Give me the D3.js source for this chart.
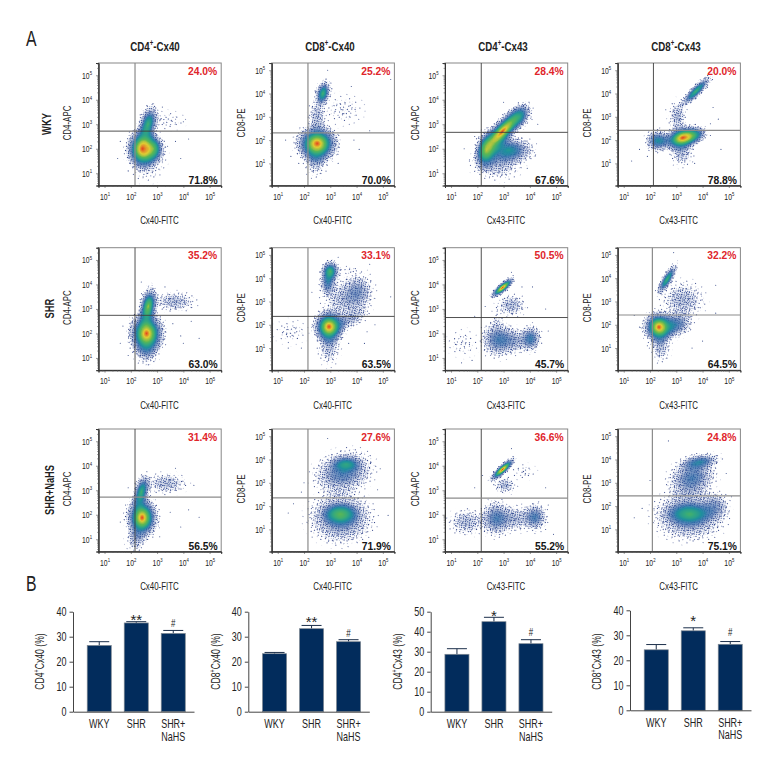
<!DOCTYPE html>
<html>
<head>
<meta charset="utf-8">
<title>Cx40 and Cx43 flow cytometry</title>
<script src="https://cdn.jsdelivr.net/npm/d3@7"></script>
<style>
  body { margin: 0; background: #fff; }
  svg { display: block; }
  text { font-family: "Liberation Sans", sans-serif; fill: #222; }
  .pct { font-weight: bold; font-size: 10.3px; }
</style>
</head>
<body>
<div id="chart"></div>
<script>
// column and row headings
var markers = ['CD4', 'CD8', 'CD4', 'CD8'];
var connexins = ['Cx40', 'Cx40', 'Cx43', 'Cx43'];
var yChannels = ['CD4-APC', 'CD8-PE', 'CD4-APC', 'CD8-PE'];
var xChannels = ['Cx40-FITC', 'Cx40-FITC', 'Cx43-FITC', 'Cx43-FITC'];
var groups = ['WKY', 'SHR', 'SHR+NaHS'];
var decades = [1, 2, 3, 4, 5];

// quadrant percentages, [row][col]
var upperPct = [['24.0%', '25.2%', '28.4%', '20.0%'],
                ['35.2%', '33.1%', '50.5%', '32.2%'],
                ['31.4%', '27.6%', '36.6%', '24.8%']];
var lowerPct = [['71.8%', '70.0%', '67.6%', '78.8%'],
                ['63.0%', '63.5%', '45.7%', '64.5%'],
                ['56.5%', '71.9%', '55.2%', '75.1%']];

// quadrant gates in log10 units, [row][col]
var gateX = [[2.16, 2.15, 2.15, 2.13],
             [2.16, 2.15, 2.15, 2.09],
             [2.16, 2.15, 2.15, 2.09]];
var gateY = [[2.72, 2.31, 2.67, 2.42],
             [2.74, 2.36, 2.65, 2.42],
             [2.72, 2.35, 2.68, 2.44]];

// populations:
// [log x, log y, spread x, spread y, tilt in degrees, peak density 0-6]
var wkyCd4Cx40 = [[2.6, 1.75, .9, 1.3, 0, 1], [2.45, 2.0, .75, 1.0, 0, 6], [2.85, 2.0, .55, .7, 0, 3],
                  [2.65, 3.0, .45, 1.0, -15, 4], [3.4, 3.15, .85, .5, 0, 0]];
var wkyCd8Cx40 = [[2.5, 1.85, 1.0, 1.0, 0, 6], [2.45, 1.2, .6, 1.0, 0, 1],
                  [2.72, 4.0, .36, .72, -15, 4], [2.5, 3.0, .45, .9, 0, 1], [3.5, 3.3, 1.0, .85, 0, 0]];
var wkyCd4Cx43 = [[2.95, 2.7, 1.6, .55, 47, 6], [2.35, 1.95, .55, 1.05, -10, 4], [3.2, 1.95, 1.2, .7, 0, 3],
                  [2.75, 1.4, 1.2, .85, 0, 1], [3.6, 3.3, .7, .55, 47, 2]];
var wkyCd8Cx43 = [[3.25, 2.1, .95, .62, 15, 6], [3.65, 2.2, .7, .42, 15, 2], [3.2, 1.5, .6, .8, 0, 1],
                  [2.3, 1.97, .6, .6, 0, 3], [3.75, 4.1, 1.0, .3, 45, 4], [3.05, 3.0, .45, .9, 0, 1]];
var shrCd4Cx40 = [[2.6, 2.0, .85, 1.1, 0, 6], [2.66, 3.1, .42, 1.0, -10, 5], [3.67, 3.3, 1.05, .52, 0, 1],
                  [2.6, 1.3, .6, .8, 0, 1]];
var shrCd8Cx40 = [[2.95, 1.92, .75, .9, 0, 6], [2.95, 1.1, .55, 1.05, 0, 1], [3.7, 2.2, 1.05, .5, 25, 1],
                  [3.0, 4.3, .45, .6, 0, 4], [2.9, 3.8, .4, .72, 0, 2], [3.7, 4.35, .65, .22, 0, 0],
                  [4.1, 3.5, .75, 1.0, 0, 1], [3.6, 3.1, 1.15, 1.15, 0, 1], [1.5, 1.7, .85, .65, 0, 0]];
var shrCd4Cx43 = [[2.96, 3.87, .72, .24, 40, 6], [3.3, 3.15, .72, .58, 0, 1], [2.8, 1.75, .85, .92, 0, 2],
                  [4.05, 1.8, .5, .68, 0, 2], [1.45, 1.6, .75, .7, 0, 0], [3.5, 1.7, .8, .68, 0, 1],
                  [2.75, 2.6, .3, .65, 0, 0]];
var shrCd8Cx43 = [[2.34, 1.9, .75, .85, 0, 6], [2.4, 1.1, .5, .92, 0, 1], [3.0, 2.0, .78, .68, 20, 2],
                  [2.65, 3.95, .85, .28, 58, 4], [3.25, 3.05, 1.05, 1.05, 0, 1]];
var nahsCd4Cx40 = [[2.43, 1.88, .75, 1.05, 0, 6], [2.4, 2.93, .38, .92, -15, 4], [3.35, 3.27, 1.0, .55, 0, 1],
                   [2.2, 1.0, .5, .68, 0, 1]];
var nahsCd8Cx40 = [[3.4, 1.5, 1.55, 1.4, 0, 2], [3.38, 1.66, .9, .6, 0, 3],
                   [3.5, 3.45, 1.45, 1.15, 15, 2], [3.6, 3.8, .75, .45, 0, 2]];
var nahsCd4Cx43 = [[2.96, 3.85, .78, .24, 42, 6], [3.05, 3.2, .55, .45, 0, 1], [2.73, 1.85, .78, .92, 0, 2],
                   [4.2, 1.9, .58, .72, 0, 2], [3.5, 1.85, .75, .68, 0, 1], [1.6, 1.7, .9, .68, 0, 1],
                   [3.75, 3.75, .65, .42, 0, 0]];
var nahsCd8Cx43 = [[3.5, 1.6, 1.7, 1.35, 0, 2], [3.5, 1.67, 1.15, .6, 0, 2], [4.5, 2.0, .7, .8, 0, 1],
                   [3.9, 3.9, 1.0, .42, 10, 2], [3.6, 3.2, 1.2, 1.05, 25, 2]];

// stray events outside the populations, [log x, log y]
var wkyCd4Cx40Strays = [[1.5, 1.6], [1.6, 2.3], [3.2, 1.5], [3.4, 2.1], [3.7, 2.3], [3.9, 1.6], [4.2, 2.4], [3.2, 3.7], [4.0, 3.1], [1.9, 1.1]];
var wkyCd8Cx40Strays = [[1.3, 2.0], [1.5, 1.3], [1.8, 1.0], [3.9, 2.0], [4.1, 1.6], [4.5, 2.4], [3.8, 4.3], [2.9, 5.0], [5.3, 4.6], [3.3, 1.0]];
var wkyCd4Cx43Strays = [[1.5, 2.0], [1.7, 1.5], [1.9, 2.5], [4.0, 2.4], [4.2, 1.7], [4.3, 3.0], [3.0, 3.9], [3.9, 1.2]];
var wkyCd8Cx43Strays = [[1.3, 1.1], [1.6, 1.6], [1.9, 1.3], [4.3, 2.7], [4.7, 1.6], [4.4, 3.4], [2.6, 3.3], [3.7, 1.0], [4.6, 2.9], [4.3, 2.2]];
var shrCd4Cx40Strays = [[1.6, 1.6], [1.7, 2.3], [3.6, 2.4], [3.9, 1.9], [4.0, 1.6], [4.6, 1.8], [3.3, 3.9], [2.4, 4.1], [4.3, 2.5], [1.9, 1.1]];
var shrCd8Cx40Strays = [[1.4, 1.0], [1.9, 1.0], [4.4, 1.7], [4.7, 2.0], [5.3, 3.2], [4.5, 4.6], [3.7, 1.2], [3.3, 4.9], [2.3, 3.4], [4.3, 1.2]];
var shrCd4Cx43Strays = [[1.9, 2.7], [2.3, 3.1], [4.6, 3.0], [4.1, 3.9], [3.7, 3.9], [4.7, 2.1], [3.3, 4.5], [1.8, .9], [1.4, .8]];
var shrCd8Cx43Strays = [[1.6, 1.9], [1.4, 2.4], [1.9, 1.1], [4.5, 2.5], [4.5, 3.7], [2.9, 5.1], [4.0, 1.3], [3.6, 1.0]];
var nahsCd4Cx40Strays = [[1.6, 1.7], [1.8, 2.4], [3.5, 2.1], [3.9, 1.5], [4.2, 2.2], [4.6, 1.9], [3.7, 3.9], [1.9, 3.1], [4.4, 3.2], [3.1, 1.1]];
var nahsCd8Cx40Strays = [[1.4, 1.7], [1.9, 2.6], [2.0, 3.0], [1.6, 2.1], [4.8, 2.7], [5.2, 1.6], [2.9, 4.9], [4.9, 3.6]];
var nahsCd4Cx43Strays = [[1.9, 3.1], [2.2, 3.6], [3.3, 4.7], [4.7, 2.4], [4.6, 1.4], [4.9, 1.2], [4.6, 3.1]];
var nahsCd8Cx43Strays = [[1.4, 1.5], [1.7, 1.9], [2.0, 3.1], [4.9, 3.4], [2.7, 4.8], [5.1, 2.4]];

var populations = [[wkyCd4Cx40, wkyCd8Cx40, wkyCd4Cx43, wkyCd8Cx43],
                   [shrCd4Cx40, shrCd8Cx40, shrCd4Cx43, shrCd8Cx43],
                   [nahsCd4Cx40, nahsCd8Cx40, nahsCd4Cx43, nahsCd8Cx43]];
var strays = [[wkyCd4Cx40Strays, wkyCd8Cx40Strays, wkyCd4Cx43Strays, wkyCd8Cx43Strays],
              [shrCd4Cx40Strays, shrCd8Cx40Strays, shrCd4Cx43Strays, shrCd8Cx43Strays],
              [nahsCd4Cx40Strays, nahsCd8Cx40Strays, nahsCd4Cx43Strays, nahsCd8Cx43Strays]];

// bar charts
var barCategories = ['WKY', 'SHR', 'SHR+NaHS'];
var cd4Cx40Means = [26.5, 35.5, 31.3];
var cd4Cx40Tops = [28.0, 36.0, 32.5];
var cd8Cx40Means = [23.2, 33.2, 28.0];
var cd8Cx40Tops = [23.7, 34.5, 28.8];
var cd4Cx43Means = [28.7, 45.0, 34.0];
var cd4Cx43Tops = [31.5, 47.2, 36.0];
var cd8Cx43Means = [24.2, 31.8, 26.4];
var cd8Cx43Tops = [26.3, 33.0, 27.5];
var barMeans = [cd4Cx40Means, cd8Cx40Means, cd4Cx43Means, cd8Cx43Means];
var barTops = [cd4Cx40Tops, cd8Cx40Tops, cd4Cx43Tops, cd8Cx43Tops];
var barMarks = [['', '**', '#'], ['', '**', '#'], ['', '*', '#'], ['', '*', '#']];
var barMax = [40, 40, 50, 40];
var barTicks = [[0, 10, 20, 30, 40], [0, 10, 20, 30, 40], [0, 10, 20, 30, 40, 50], [0, 10, 20, 30, 40]];

// layout
var colLeft = [98.5, 271.7, 445, 617.7];
var rowTop = [63, 247.7, 429];
var plotW = 122.7, plotH = 122.5;
var xDomain = [0.77, 5.44];
var yDomains = [[0.5, 5.5], [0.05, 5.31], [0.5, 5.5], [0.05, 5.31]];
var titleX = [155, 330, 503, 676];
var channelX = [67, 241.7, 415.7, 587.7];
var rowLabelX = [47, 50, 50];
var barLeft = [73, 248.3, 430.7, 630];
var barBase = [711.7, 711.7, 711.7, 710.3];
var barTitleX = [40, 216, 398.3, 597.3];
var barMarkGaps = [[0, 4.7, 7], [0, 6.4, 6.7], [0, 4.6, 7.4], [0, 10, 9.5]];
var squeeze = .72;

// gate line shades: some are printed lighter and heavier
var darkGate = ['#3c3c3c', .9], greyGate = ['#8b8b8b', 1.2];
var gateShadeV = [[greyGate, greyGate, darkGate, darkGate],
                  [darkGate, greyGate, darkGate, greyGate],
                  [darkGate, greyGate, darkGate, greyGate]];
var gateShadeH = [[darkGate, greyGate, darkGate, greyGate],
                  [darkGate, darkGate, darkGate, greyGate],
                  [greyGate, greyGate, greyGate, greyGate]];

// how strongly each peak level shows, and the density colour ramp (0 to 1 in even steps)
var peakOpacity = [.12, .3, .5, .62, .74, .86, 1];
var rampRed =   [1, 1, .36, .24, .2, .17, .12, .2, .36, .88, .9];
var rampGreen = [1, 1, .46, .36, .37, .42, .56, .66, .72, .8, .25];
var rampBlue =  [1, 1, .72, .62, .64, .66, .62, .5, .33, .2, .12];
var rampAlpha = [0, 0, .1, .32, .62, .85, 1, 1, 1, 1, 1];

// dot tiles for the thin parts of each population, each one [x, y] inside its tile
var sparseDots = [[1, 2], [9, 1], [5, 5], [12, 6], [2, 10], [8, 11], [14, 13]];
var middleDots = [[0, 1], [4, 0], [7, 3], [2, 4], [9, 6], [5, 7], [0, 8], [8, 9], [3, 10]];
var denseDots = [[0, 0], [3, 1], [5, 0], [1, 2], [4, 3], [6, 2], [2, 4], [0, 5], [5, 5], [3, 6]];

var svg = d3.select('#chart').append('svg').attr('width', 780).attr('height', 780);
var defs = svg.append('defs');

function addTile(id, size, dots, angle, colour) {
    var tile = defs.append('pattern').attr('id', id).attr('patternUnits', 'userSpaceOnUse')
        .attr('width', size).attr('height', size)
        .attr('patternTransform', 'rotate(' + angle + ')');
    tile.selectAll('rect').data(dots).join('rect')
        .attr('x', function(d) { return d[0]; })
        .attr('y', function(d) { return d[1]; })
        .attr('width', 1).attr('height', 1).attr('fill', colour);
}
addTile('dotsSparse', 16, sparseDots, 21, '#2f4188');
addTile('dotsMiddle', 11, middleDots, 58, '#2b3f88');
addTile('dotsDense', 7, denseDots, 33, '#2b4590');

// a population is a soft blob, thick in the middle
var blob = defs.append('radialGradient').attr('id', 'blob');
[[0, 1], [.3, .78], [.6, .36], [.85, .1], [1, 0]].forEach(function(s) {
    blob.append('stop').attr('offset', s[0]).attr('stop-color', '#000').attr('stop-opacity', s[1]);
});

// filter turning the blob thickness into the density colours
function rampFilter(id, reds, greens, blues, alphas) {
    var f = defs.append('filter').attr('id', id).attr('filterUnits', 'userSpaceOnUse')
        .attr('x', 0).attr('y', 0).attr('width', plotW).attr('height', plotH)
        .attr('color-interpolation-filters', 'sRGB');
    f.append('feColorMatrix').attr('type', 'matrix')
        .attr('values', '0 0 0 1 0  0 0 0 1 0  0 0 0 1 0  0 0 0 1 0');
    var t = f.append('feComponentTransfer');
    t.append('feFuncR').attr('type', 'table').attr('tableValues', reds.join(' '));
    t.append('feFuncG').attr('type', 'table').attr('tableValues', greens.join(' '));
    t.append('feFuncB').attr('type', 'table').attr('tableValues', blues.join(' '));
    t.append('feFuncA').attr('type', 'table').attr('tableValues', alphas.join(' '));
}
// same idea for the masks: white above a threshold, nothing below
function threshold(lo, hi) {
    return d3.range(0, 41).map(function(i) {
        var a = i / 40;
        return Math.max(0, Math.min(1, (a - lo) / (hi - lo)));
    });
}
var ones = [1, 1];
rampFilter('densityColours', rampRed, rampGreen, rampBlue, rampAlpha);
rampFilter('maskSparse', ones, ones, ones, threshold(.01, .03));
rampFilter('maskMiddle', ones, ones, ones, threshold(.05, .1));
rampFilter('maskDense', ones, ones, ones, threshold(.11, .19));

// text with a raised part: parts are [string, isSuper]
function richText(sel, parts, size) {
    parts.forEach(function(p, i) {
        var span = sel.append('tspan').text(p[0]);
        if (p[1]) {
            span.attr('font-size', size * .62).attr('dy', -size * .36);
        } else if (i > 0) {
            span.attr('dy', size * .36);
        }
    });
    return sel;
}

function drawDecadeLabels(axisGroup, size) {
    axisGroup.selectAll('.tick text').each(function(d) {
        var label = d3.select(this).text(null);
        richText(label, [['10', false], [String(Math.round(Math.log10(d))), true]], size);
    });
}

function styleAxis(axisGroup) {
    axisGroup.selectAll('.domain').attr('stroke', '#333').attr('stroke-width', 1);
    axisGroup.selectAll('.tick line').attr('stroke', '#555').attr('stroke-width', .6);
}

function drawBlobs(parent, clusters, x, y) {
    parent.selectAll('ellipse').data(clusters).join('ellipse')
        .attr('cx', function(c) { return x(Math.pow(10, c[0])); })
        .attr('cy', function(c) { return y(Math.pow(10, c[1])); })
        .attr('rx', function(c) { return x(Math.pow(10, c[0] + c[2])) - x(Math.pow(10, c[0])); })
        .attr('ry', function(c) { return y(Math.pow(10, c[1])) - y(Math.pow(10, c[1] + c[3])); })
        .attr('transform', function(c) {
            return 'rotate(' + (-c[4]) + ',' + x(Math.pow(10, c[0])) + ',' + y(Math.pow(10, c[1])) + ')';
        })
        .attr('fill', 'url(#blob)')
        .attr('fill-opacity', function(c) { return peakOpacity[c[5]]; });
}

function drawPanel(row, col) {
    var left = colLeft[col], top = rowTop[row];
    var x = d3.scaleLog().domain(xDomain.map(function(v) { return Math.pow(10, v); })).range([0, plotW]);
    var y = d3.scaleLog().domain(yDomains[col].map(function(v) { return Math.pow(10, v); })).range([plotH, 0]);
    var g = svg.append('g').attr('transform', 'translate(' + left + ',' + top + ')');
    var clusters = populations[row][col];
    var key = row + '-' + col;

    // frame
    g.append('rect').attr('width', plotW).attr('height', plotH)
        .attr('fill', '#fff').attr('stroke', '#888').attr('stroke-width', 1);

    // dots thin out towards the edge of each population
    [['Sparse', 'dotsSparse'], ['Middle', 'dotsMiddle'], ['Dense', 'dotsDense']].forEach(function(tier) {
        var mask = defs.append('mask').attr('id', 'mask' + tier[0] + key)
            .attr('maskUnits', 'userSpaceOnUse')
            .attr('x', 0).attr('y', 0).attr('width', plotW).attr('height', plotH);
        drawBlobs(mask.append('g').attr('filter', 'url(#mask' + tier[0] + ')'), clusters, x, y);
        g.append('rect').attr('width', plotW).attr('height', plotH)
            .attr('fill', 'url(#' + tier[1] + ')')
            .attr('mask', 'url(#mask' + tier[0] + key + ')');
    });
    drawBlobs(g.append('g').attr('filter', 'url(#densityColours)'), clusters, x, y);

    g.selectAll('circle.stray').data(strays[row][col]).join('circle')
        .attr('class', 'stray')
        .attr('cx', function(d) { return x(Math.pow(10, d[0])); })
        .attr('cy', function(d) { return y(Math.pow(10, d[1])); })
        .attr('r', .55).attr('fill', '#41548f');

    // quadrant gates
    g.append('line').attr('y1', 0).attr('y2', plotH)
        .attr('x1', x(Math.pow(10, gateX[row][col]))).attr('x2', x(Math.pow(10, gateX[row][col])))
        .attr('stroke', gateShadeV[row][col][0]).attr('stroke-width', gateShadeV[row][col][1]);
    g.append('line').attr('x1', 0).attr('x2', plotW)
        .attr('y1', y(Math.pow(10, gateY[row][col]))).attr('y2', y(Math.pow(10, gateY[row][col])))
        .attr('stroke', gateShadeH[row][col][0]).attr('stroke-width', gateShadeH[row][col][1]);

    // log axes: labelled decades plus small ticks in between
    var majors = decades.map(function(d) { return Math.pow(10, d); });
    var minorsIn = function(scale) {
        var out = [];
        d3.range(0, 6).forEach(function(k) {
            d3.range(2, 10).forEach(function(m) {
                var v = m * Math.pow(10, k);
                if (v >= scale.domain()[0] && v <= scale.domain()[1]) out.push(v);
            });
        });
        return out;
    };
    var bottom = g.append('g').attr('transform', 'translate(0,' + plotH + ')')
        .call(d3.axisBottom(x).tickValues(majors).tickSize(2.5).tickPadding(5).tickFormat(String));
    bottom.selectAll('.tick text').attr('font-size', 9.5).attr('font-family', null);
    drawDecadeLabels(bottom, 9.5);
    var bottomMinor = g.append('g').attr('transform', 'translate(0,' + plotH + ')')
        .call(d3.axisBottom(x).tickValues(minorsIn(x)).tickSize(1.4).tickFormat(''));
    var leftAxis = g.append('g')
        .call(d3.axisLeft(y).tickValues(majors).tickSize(2.5).tickPadding(4).tickFormat(String));
    leftAxis.selectAll('.tick text').attr('font-size', 9.5).attr('font-family', null);
    drawDecadeLabels(leftAxis, 9.5);
    var leftMinor = g.append('g')
        .call(d3.axisLeft(y).tickValues(minorsIn(y)).tickSize(1.4).tickFormat(''));
    [bottom, bottomMinor, leftAxis, leftMinor].forEach(styleAxis);

    g.append('text').attr('class', 'pct').attr('x', plotW - 4).attr('y', 11.5)
        .attr('text-anchor', 'end').style('fill', '#e0252b').text(upperPct[row][col]);
    g.append('text').attr('class', 'pct').attr('x', plotW - 3.5).attr('y', plotH - 2)
        .attr('text-anchor', 'end').style('fill', '#151515').text(lowerPct[row][col]);

    // channel names
    svg.append('text').attr('x', left + 61).attr('y', top + 161)
        .attr('text-anchor', 'middle').attr('font-size', 11).text(xChannels[col]);
    svg.append('text').attr('text-anchor', 'middle').attr('font-size', 11)
        .attr('transform', 'translate(' + (channelX[col] + 3.5) + ',' + (top + 60) + ') rotate(-90)')
        .text(yChannels[col]);
}

function drawBars(col) {
    var left = barLeft[col], base = barBase[col];
    var x = d3.scaleBand().domain(barCategories).range([0, 121])
        .paddingInner(.35).paddingOuter(.31).align(.62);
    var y = d3.scaleLinear().domain([0, barMax[col]]).range([0, -100]);
    var g = svg.append('g').attr('transform', 'translate(' + left + ',' + base + ')');

    // error bars go behind the bars
    barMeans[col].forEach(function(mean, i) {
        var cx = x(barCategories[i]) + x.bandwidth() / 2;
        var top = barTops[col][i];
        g.append('line').attr('x1', cx).attr('x2', cx).attr('y1', y(mean)).attr('y2', y(top))
            .attr('stroke', '#1c2f4a').attr('stroke-width', 1);
        g.append('line').attr('x1', cx - 10).attr('x2', cx + 10).attr('y1', y(top)).attr('y2', y(top))
            .attr('stroke', '#1c2f4a').attr('stroke-width', 1);
        var mark = barMarks[col][i], gap = barMarkGaps[col][i];
        if (mark === '#') {
            g.append('text').attr('x', cx).attr('y', y(top) - gap + 4)
                .attr('text-anchor', 'middle').attr('font-size', 11).text(mark);
        } else if (mark) {
            g.append('text').attr('class', 'star').attr('x', cx).attr('y', y(top) - gap + 8.2)
                .attr('text-anchor', 'middle').attr('font-size', 15).text(mark);
        }
    });

    g.selectAll('rect').data(barMeans[col]).join('rect')
        .attr('x', function(d, i) { return x(barCategories[i]); })
        .attr('y', function(d) { return y(d); })
        .attr('width', x.bandwidth())
        .attr('height', function(d) { return -y(d); })
        .attr('fill', '#022c5c').attr('stroke', '#7d8791').attr('stroke-width', .7);

    var yAxis = g.append('g').call(d3.axisLeft(y).tickValues(barTicks[col]).tickSize(3.5).tickPadding(3).tickSizeOuter(0));
    yAxis.selectAll('text').attr('font-size', 12.5).attr('font-family', null);
    yAxis.selectAll('.domain, .tick line').attr('stroke', '#444').attr('stroke-width', 1);

    var xAxis = g.append('g').call(d3.axisBottom(x).tickSize(0).tickFormat(function() { return ''; }));
    xAxis.selectAll('.domain').attr('stroke', '#444').attr('stroke-width', 1);

    // category labels, the last one wraps after the plus sign
    barCategories.forEach(function(name, i) {
        var pieces = name.indexOf('+') > 0 ? [name.split('+')[0] + '+', name.split('+')[1]] : [name];
        pieces.forEach(function(piece, k) {
            g.append('text').attr('x', x(name) + x.bandwidth() / 2).attr('y', 16.5 + k * 12.7)
                .attr('text-anchor', 'middle').attr('font-size', 12.5).text(piece);
        });
    });

    var title = svg.append('text').attr('text-anchor', 'middle').attr('font-size', 12)
        .attr('transform', 'translate(' + (barTitleX[col] + 3.5) + ',661.5) rotate(-90)');
    richText(title, [[markers[col], false], ['+', true], [connexins[col] + ' (%)', false]], 12);
}

// headings
markers.forEach(function(m, col) {
    var title = svg.append('text').attr('x', titleX[col]).attr('y', 51)
        .attr('text-anchor', 'middle').attr('font-size', 13.5).attr('font-weight', 'bold');
    richText(title, [[m, false], ['+', true], ['-' + connexins[col], false]], 13.5);
});
groups.forEach(function(name, row) {
    svg.append('text').attr('font-size', 13).attr('font-weight', 'bold').attr('text-anchor', 'middle')
        .attr('transform', 'translate(' + (rowLabelX[row] + 4) + ',' + (rowTop[row] + 61) + ') rotate(-90)')
        .text(name);
});
svg.append('text').attr('x', 26).attr('y', 46).attr('font-size', 22).text('A');
svg.append('text').attr('x', 26).attr('y', 591).attr('font-size', 22).text('B');

rowTop.forEach(function(t, row) {
    colLeft.forEach(function(l, col) {
        drawPanel(row, col);
    });
});
barMeans.forEach(function(m, col) {
    drawBars(col);
});

// the journal uses a condensed face, so squeeze the text sideways around its anchor,
// leaving out the percentages and the stars
svg.selectAll('text').filter(function() {
    return !this.classList.contains('pct') && !this.classList.contains('star');
}).each(function() {
    var anchorX = +this.getAttribute('x') || 0;
    var before = this.getAttribute('transform') || '';
    this.setAttribute('transform', before + ' translate(' + anchorX + ',0) scale(' + squeeze + ',1) translate(' + (-anchorX) + ',0)');
});
</script>
</body>
</html>
